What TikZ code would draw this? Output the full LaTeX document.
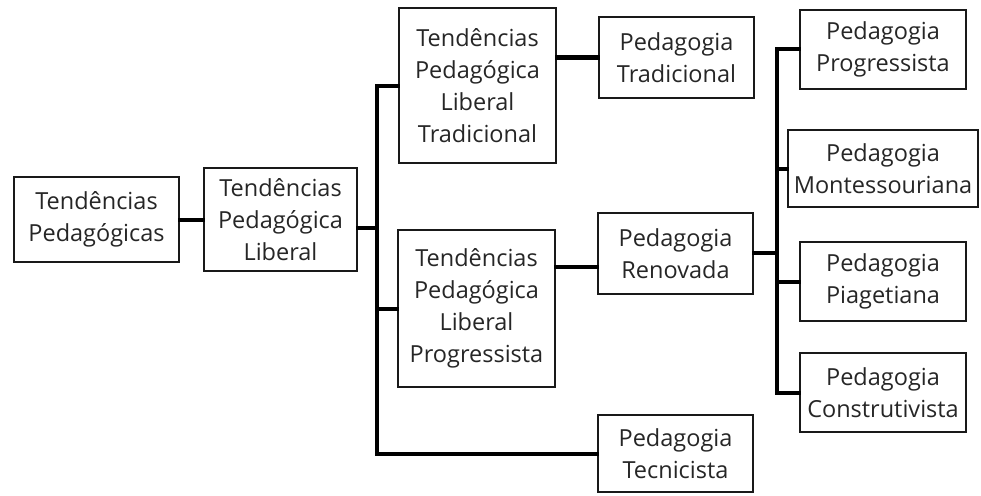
\documentclass[tikz,border=0pt]{standalone}
\usepackage{fontspec}
\setmainfont{Open Sans}
\begin{document}
\begin{tikzpicture}[x=1pt,y=-1pt,
  box/.style={draw=black!90, line width=2.6pt, align=center, inner sep=0pt,
    font=\fontsize{23.5}{32}\selectfont, text=black!85},
  conn/.style={draw=black, line width=4pt, line cap=rect}]
\useasboundingbox (0,0) rectangle (981,495);
\node[box, minimum width=165, minimum height=85] (n1) at (96.5,219.5) {Tendências\\Pedagógicas};
\node[box, minimum width=153, minimum height=103] (n2) at (280.5,219.5) {Tendências\\Pedagógica\\Liberal};
\node[box, minimum width=157, minimum height=155] (n3) at (477.5,85.5) {Tendências\\Pedagógica\\Liberal\\Tradicional};
\node[box, minimum width=157, minimum height=157] (n4) at (476.5,308.5) {Tendências\\Pedagógica\\Liberal\\Progressista};
\node[box, minimum width=155, minimum height=81] (n5) at (676.5,57.5) {Pedagogia\\Tradicional};
\node[box, minimum width=155, minimum height=81] (n6) at (675.5,253.5) {Pedagogia\\Renovada};
\node[box, minimum width=155, minimum height=77] (n7) at (675.5,453.5) {Pedagogia\\Tecnicista};
\node[box, minimum width=166, minimum height=79] (n8) at (883,49.5) {Pedagogia\\Progressista};
\node[box, minimum width=190, minimum height=77] (n9) at (883,168.5) {Pedagogia\\Montessouriana};
\node[box, minimum width=166, minimum height=79] (n10) at (883,281.5) {Pedagogia\\Piagetiana};
\node[box, minimum width=166, minimum height=79] (n11) at (883,392.5) {Pedagogia\\Construtivista};
\coordinate (t1) at (377,228);
\coordinate (t2) at (777,253);
\coordinate (r46) at (0,267);
% connectors
\draw[conn] (n1.east) -- (n2.west);
\draw[conn] (n2.east |- t1) -- (t1);
\draw[conn] (n3.west) -| (t1) |- (n7.west);
\draw[conn] (t1) |- (n4.west);
\draw[conn] (n3.east |- n5.west) -- (n5.west);
\draw[conn] (n4.east |- r46) -- (n6.west |- r46);
\draw[conn] (n6.east |- t2) -- (t2);
\draw[conn] (n8.west) -| (t2) |- (n11.west);
\draw[conn] (t2 |- n9.west) -- (n9.west);
\draw[conn] (t2 |- n10.west) -- (n10.west);
\end{tikzpicture}
\end{document}
